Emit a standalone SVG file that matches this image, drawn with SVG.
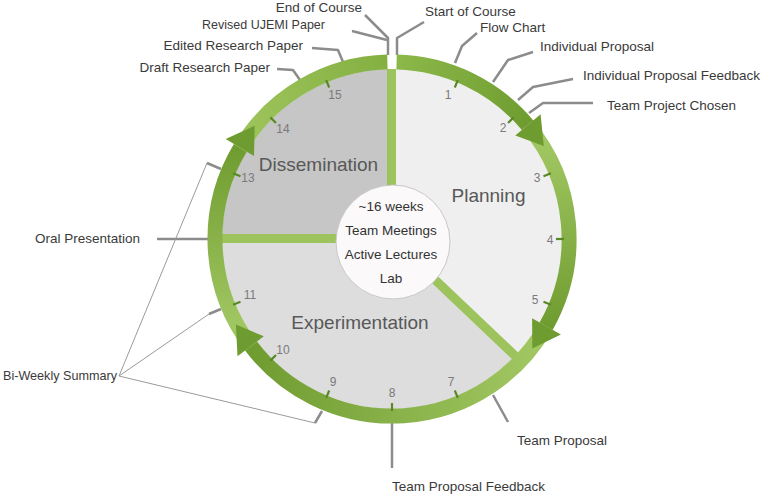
<svg xmlns="http://www.w3.org/2000/svg" width="770" height="496" viewBox="0 0 770 496">
<defs>
<style>
text{font-family:"Liberation Sans",Arial,sans-serif;}
.lbl{font-size:13.5px;fill:#3a3a3a;}
.num{font-size:12px;fill:#7a7a7a;text-anchor:middle;}
.title{font-size:19px;fill:#585858;text-anchor:middle;}
.ctr{font-size:13.5px;fill:#333;text-anchor:middle;}
.lead{fill:none;stroke:#8c8c8c;stroke-width:2.5;stroke-linejoin:round;}
.thin{fill:none;stroke:#9a9a9a;stroke-width:1;}
.ring{fill:none;stroke-width:15;}
.tick{stroke:#5a8826;stroke-width:2.2;}
.div{fill:none;stroke:#9cc35c;stroke-width:9;}
.head{fill:#6f9c30;}
</style>
<linearGradient id="gA" gradientUnits="userSpaceOnUse" x1="396.6" y1="62.1" x2="527.6" y2="125.2"><stop offset="0" stop-color="#8cb84a"/><stop offset="1" stop-color="#6f9c30"/></linearGradient>
<linearGradient id="gB" gradientUnits="userSpaceOnUse" x1="543.8" y1="146" x2="546.1" y2="326.2"><stop offset="0" stop-color="#a0c661"/><stop offset="1" stop-color="#6f9c30"/></linearGradient>
<linearGradient id="gC" gradientUnits="userSpaceOnUse" x1="532" y1="350" x2="251" y2="346"><stop offset="0" stop-color="#a0c661"/><stop offset="1" stop-color="#6f9c30"/></linearGradient>
<linearGradient id="gD" gradientUnits="userSpaceOnUse" x1="236" y1="324" x2="240" y2="148"><stop offset="0" stop-color="#a0c661"/><stop offset="1" stop-color="#6f9c30"/></linearGradient>
<linearGradient id="gE" gradientUnits="userSpaceOnUse" x1="254.7" y1="125.8" x2="387.4" y2="62.1"><stop offset="0" stop-color="#9cc35a"/><stop offset="1" stop-color="#84b042"/></linearGradient>
</defs>
<rect width="770" height="496" fill="#ffffff"/>

<g id="connectors">
<polyline class="lead" points="397,55 397,38 424,22"/>
<polyline class="lead" points="388,55 388,38 365,15"/>
<polyline class="lead" points="352,31 387,40"/>
<polyline class="lead" points="312,48 338,50 343,62"/>
<polyline class="lead" points="277,69 293,70 300,80"/>
<polyline class="lead" points="455,63 462,46 477,33"/>
<polyline class="lead" points="493,82 508,60 533,52"/>
<polyline class="lead" points="518,100 533,87 573,79"/>
<polyline class="lead" points="529,113 543,103 593,103"/>
<polyline class="lead" points="157,239 208,239"/>
<polyline class="lead" points="493,395 508,422"/>
<polyline class="lead" points="392,423 392,468"/>
<polyline class="thin" points="119,376 207,163"/>
<polyline class="thin" points="119,376 209,314"/>
<polyline class="thin" points="119,376 315,423"/>
<polyline class="lead" points="207,163 221,169"/>
<polyline class="lead" points="209,314 221,309"/>
<polyline class="lead" points="315,423 322,411"/>
</g>

<g id="sector-planning">
<path d="M392,239 L392,69 A170,170 0 0 1 515.3,356 Z" fill="#efefef"/>
<text class="title" x="488.5" y="202">Planning</text>
</g>
<g id="sector-experimentation">
<path d="M392,239 L515.3,356 A170,170 0 0 1 222,239 Z" fill="#dddddd"/>
<text class="title" x="360" y="329">Experimentation</text>
</g>
<g id="sector-dissemination">
<path d="M392,239 L222,239 A170,170 0 0 1 392,69 Z" fill="#c6c6c6"/>
<text class="title" x="318.5" y="171">Dissemination</text>
</g>

<g id="dividers">
<line class="div" x1="391.5" y1="69" x2="391.5" y2="200"/>
<line class="div" x1="222" y1="238.5" x2="350" y2="238.5"/>
<line class="div" x1="430" y1="275" x2="515.3" y2="356"/>
</g>

<g id="ring">
<path class="ring" stroke="url(#gA)" d="M396.6,62.1 A177,177 0 0 1 527.6,125.2"/>
<path class="ring" stroke="url(#gB)" d="M527.6,125.2 A177,177 0 0 1 546.1,326.2"/>
<path class="ring" stroke="url(#gC)" d="M546.1,326.2 A177,177 0 0 1 251,346"/>
<path class="ring" stroke="url(#gD)" d="M251,346 A177,177 0 0 1 240.3,147.8"/>
<path class="ring" stroke="url(#gE)" d="M240.3,147.8 A177,177 0 0 1 387.4,62.1"/>
<polygon class="head" points="515.3,135.5 540.6,114.3 543.8,146"/>
<polygon class="head" points="532.1,318.3 560.9,334.5 532.3,348.6"/>
<polygon class="head" points="263.8,336.3 237.5,356.3 235.9,324.5"/>
<polygon class="head" points="254,156.1 225.7,139.1 254.7,125.8"/>
</g>

<g id="weeks">
<line class="tick" x1="454.8" y1="87.5" x2="457.8" y2="80.1"/>
<line class="tick" x1="508" y1="123" x2="513.6" y2="117.4"/>
<line class="tick" x1="543.5" y1="176.2" x2="550.9" y2="173.2"/>
<line class="tick" x1="556" y1="239" x2="564" y2="239"/>
<line class="tick" x1="543.5" y1="301.8" x2="550.9" y2="304.8"/>
<line class="tick" x1="454.8" y1="390.5" x2="457.8" y2="397.9"/>
<line class="tick" x1="392" y1="403" x2="392" y2="411"/>
<line class="tick" x1="329.2" y1="390.5" x2="326.2" y2="397.9"/>
<line class="tick" x1="276" y1="355" x2="270.4" y2="360.6"/>
<line class="tick" x1="240.5" y1="301.8" x2="233.1" y2="304.8"/>
<line class="tick" x1="240.5" y1="176.2" x2="233.1" y2="173.2"/>
<line class="tick" x1="276" y1="123" x2="270.4" y2="117.4"/>
<line class="tick" x1="329.2" y1="87.5" x2="326.2" y2="80.1"/>
<text class="num" x="448" y="99">1</text>
<text class="num" x="503" y="132">2</text>
<text class="num" x="537" y="182">3</text>
<text class="num" x="550" y="244">4</text>
<text class="num" x="535" y="304">5</text>
<text class="num" x="451" y="386">7</text>
<text class="num" x="392" y="397">8</text>
<text class="num" x="333" y="386">9</text>
<text class="num" x="283" y="354">10</text>
<text class="num" x="250" y="299">11</text>
<text class="num" x="248" y="182">13</text>
<text class="num" x="283" y="133">14</text>
<text class="num" x="335" y="99">15</text>
</g>

<g id="center">
<circle cx="393" cy="242" r="57" fill="#fbf9f9" stroke="#c8c8c8" stroke-width="1"/>
<text class="ctr" x="391" y="211">~16 weeks</text>
<text class="ctr" x="391" y="235">Team Meetings</text>
<text class="ctr" x="391" y="259">Active Lectures</text>
<text class="ctr" x="391" y="283">Lab</text>
</g>

<g id="label-end-of-course"><text class="lbl" x="362" y="12" text-anchor="end">End of Course</text></g>
<g id="label-revised-ujemi"><text class="lbl" x="202" y="29" textLength="123" lengthAdjust="spacingAndGlyphs">Revised UJEMI Paper</text></g>
<g id="label-edited-paper"><text class="lbl" x="303" y="50" text-anchor="end">Edited Research Paper</text></g>
<g id="label-draft-paper"><text class="lbl" x="270" y="72" text-anchor="end">Draft Research Paper</text></g>
<g id="label-start-of-course"><text class="lbl" x="425" y="16">Start of Course</text></g>
<g id="label-flow-chart"><text class="lbl" x="480" y="32">Flow Chart</text></g>
<g id="label-individual-proposal"><text class="lbl" x="540" y="51">Individual Proposal</text></g>
<g id="label-individual-feedback"><text class="lbl" x="583" y="80">Individual Proposal Feedback</text></g>
<g id="label-team-project"><text class="lbl" x="607" y="110">Team Project Chosen</text></g>
<g id="label-oral-presentation"><text class="lbl" x="140" y="243" text-anchor="end">Oral Presentation</text></g>
<g id="label-bi-weekly"><text class="lbl" x="3" y="380" textLength="114" lengthAdjust="spacingAndGlyphs">Bi-Weekly Summary</text></g>
<g id="label-team-proposal"><text class="lbl" x="517" y="445">Team Proposal</text></g>
<g id="label-team-proposal-feedback"><text class="lbl" x="392" y="491">Team Proposal Feedback</text></g>
</svg>
